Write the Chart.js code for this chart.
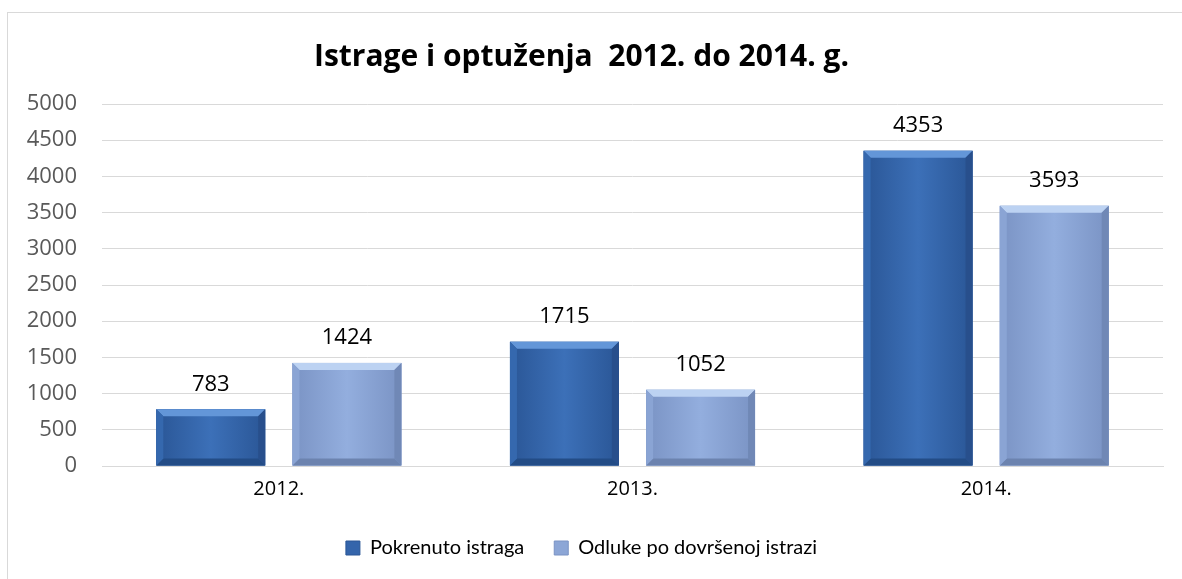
<!DOCTYPE html>
<html>
<head>
<meta charset="utf-8">
<script src="https://cdn.jsdelivr.net/npm/chart.js@4/dist/chart.umd.min.js"></script>
<style>
  html, body { margin: 0; padding: 0; background: #fff; }
  #frame { position: absolute; left: 7px; top: 12px; width: 1200px; height: 600px; border: 1px solid #d9d9d9; box-sizing: border-box; }
  #wrap { position: absolute; left: 0; top: 0; width: 1182px; height: 579px; }
</style>
</head>
<body>
<div id="frame"></div>
<div id="wrap"><canvas id="c" width="1182" height="579"></canvas></div>
<script>
const categories = ['2012.', '2013.', '2014.'];
const pokrenutoIstraga = [783, 1715, 4353];
const odlukePoIstrazi = [1424, 1052, 3593];
const seriesNames = ['Pokrenuto istraga', 'Odluke po dovršenoj istrazi'];
const yTicks = [0, 500, 1000, 1500, 2000, 2500, 3000, 3500, 4000, 4500, 5000];

const styles = [
  { solid: '#3465AB', edge: '#2A5696', mid: '#3C70B8', top: '#6396D8', bottom: '#234C86', left: '#3568AE', right: '#284F8C' },
  { solid: '#8CA6D6', edge: '#7A93C4', mid: '#93AEDE', top: '#BCD2F2', bottom: '#6C83AF', left: '#8AA4D4', right: '#7088B6' }
];

const bevelPlugin = {
  id: 'bevel',
  afterDatasetsDraw(chart) {
    const ctx = chart.ctx;
    chart.data.datasets.forEach((ds, di) => {
      const meta = chart.getDatasetMeta(di);
      const st = styles[di];
      meta.data.forEach((el, i) => {
        const p = el.getProps(['x', 'y', 'width', 'base'], true);
        const l = p.x - p.width / 2, r = p.x + p.width / 2, t = p.y, b = p.base;
        const h = b - t;
        const bv = Math.min(7, h / 4);
        ctx.save();
        const g = ctx.createLinearGradient(l, 0, r, 0);
        g.addColorStop(0, st.edge);
        g.addColorStop(0.5, st.mid);
        g.addColorStop(1, st.edge);
        ctx.fillStyle = g;
        ctx.fillRect(l, t, r - l, h);
        ctx.fillStyle = st.top;
        ctx.beginPath();
        ctx.moveTo(l, t); ctx.lineTo(r, t); ctx.lineTo(r - bv, t + bv); ctx.lineTo(l + bv, t + bv); ctx.closePath(); ctx.fill();
        ctx.fillStyle = st.bottom;
        ctx.beginPath();
        ctx.moveTo(l, b); ctx.lineTo(r, b); ctx.lineTo(r - bv, b - bv); ctx.lineTo(l + bv, b - bv); ctx.closePath(); ctx.fill();
        ctx.fillStyle = st.left;
        ctx.beginPath();
        ctx.moveTo(l, t); ctx.lineTo(l + bv, t + bv); ctx.lineTo(l + bv, b - bv); ctx.lineTo(l, b); ctx.closePath(); ctx.fill();
        ctx.fillStyle = st.right;
        ctx.beginPath();
        ctx.moveTo(r, t); ctx.lineTo(r - bv, t + bv); ctx.lineTo(r - bv, b - bv); ctx.lineTo(r, b); ctx.closePath(); ctx.fill();
        ctx.fillStyle = '#000';
        ctx.font = '22px "Open Sans"';
        ctx.textAlign = 'center';
        ctx.textBaseline = 'middle';
        ctx.fillText(String(ds.data[i]), p.x, t - 25);
        ctx.restore();
      });
    });
  }
};

new Chart(document.getElementById('c'), {
  type: 'bar',
  data: {
    labels: categories,
    datasets: [
      { label: seriesNames[0], data: pokrenutoIstraga, backgroundColor: styles[0].solid, categoryPercentage: 0.77, barPercentage: 0.8 },
      { label: seriesNames[1], data: odlukePoIstrazi, backgroundColor: styles[1].solid, categoryPercentage: 0.77, barPercentage: 0.8 }
    ]
  },
  options: {
    responsive: false,
    animation: false,
    layout: { padding: { left: 0, right: 19, top: 0, bottom: 18 } },
    plugins: {
      tooltip: { enabled: false },
      title: {
        display: true,
        text: 'Istrage i optuženja  2012. do 2014. g.',
        color: '#000',
        font: { family: 'Open Sans', size: 30, weight: 'bold' },
        padding: { top: 39, bottom: 29 }
      },
      legend: {
        position: 'bottom',
        maxHeight: 53,
        labels: {
          color: '#000',
          font: { family: 'Lato', size: 20 },
          boxWidth: 14,
          boxHeight: 14,
          padding: 30,
          generateLabels(chart) {
            return chart.data.datasets.map((ds, i) => ({
              text: ds.label,
              fillStyle: styles[i].solid,
              strokeStyle: styles[i].edge,
              lineWidth: 1,
              datasetIndex: i,
              fontColor: '#000'
            }));
          }
        }
      }
    },
    scales: {
      x: {
        grid: { display: false, drawTicks: false },
        border: { display: true, color: '#d9d9d9', width: 1 },
        ticks: { color: '#000', font: { family: 'Open Sans', size: 20 }, padding: 11 },
        afterFit(scale) { scale.height = 42; }
      },
      y: {
        min: 0,
        max: 5000,
        afterBuildTicks(scale) { scale.ticks = yTicks.map(v => ({ value: v })); },
        grid: { color: '#d9d9d9', lineWidth: 1, drawTicks: false },
        border: { display: false },
        ticks: { color: '#595959', font: { family: 'Open Sans', size: 22 }, padding: 25, callback: v => String(v) },
        afterFit(scale) { scale.width = 102; }
      }
    }
  },
  plugins: [bevelPlugin]
});
</script>
</body>
</html>
